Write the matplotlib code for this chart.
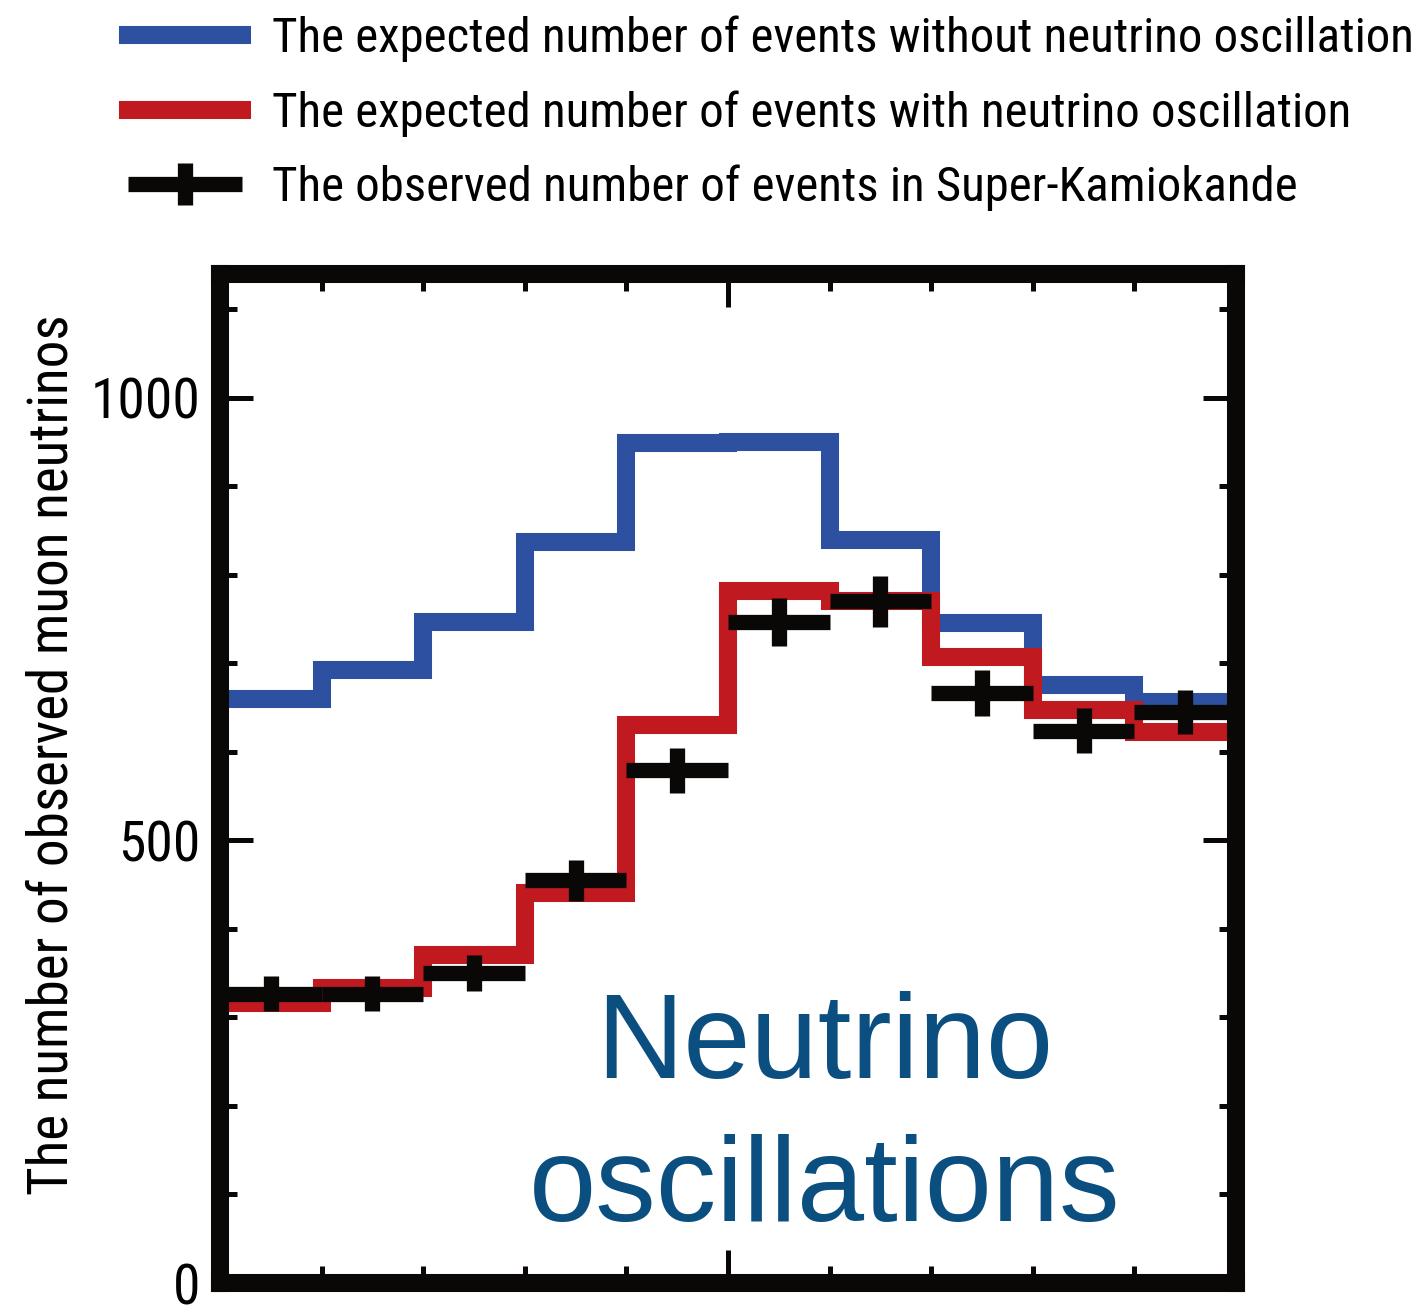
import numpy as np
import matplotlib.pyplot as plt
from matplotlib.ticker import MultipleLocator
from matplotlib.container import ErrorbarContainer
from matplotlib.legend_handler import HandlerErrorbar

# zenith angle bins (cos theta)
bin_edges = [-1.0, -0.8, -0.6, -0.4, -0.2, 0.0, 0.2, 0.4, 0.6, 0.8, 1.0]

# expected events without oscillation
no_osc = [660, 693, 747, 837, 949, 950, 839, 745, 675, 656]
# expected events with oscillation
with_osc = [316, 333, 370, 440, 630, 782, 770, 707, 647, 622]
# observed in Super-Kamiokande
observed = [327, 327, 350, 455, 579, 747, 770, 667, 624, 645]
observed_err = [20, 20, 20, 23, 25, 27, 29, 26, 25, 25]

labels = ["The expected number of events without neutrino oscillation",
          "The expected number of events with neutrino oscillation",
          "The observed number of events in Super-Kamiokande"]
ylabel = "The number of observed muon neutrinos"

narrow = ['Liberation Sans Narrow', 'Roboto Condensed', 'Lato', 'DejaVu Sans']

edges = np.array(bin_edges)
centers = (edges[:-1] + edges[1:]) / 2
half_w = np.diff(edges) / 2

fig = plt.figure(figsize=(14.24, 13.10), dpi=100)
ax = fig.add_axes([0.1545, 0.0206, 0.7135, 0.7704])
renderer = fig.canvas.get_renderer()


def fit_size(text, width_px, guess=30):
    # font size that makes the text about width_px wide
    t = fig.text(0, 0, text, fontsize=guess, family=narrow)
    w = t.get_window_extent(renderer=renderer).width
    t.remove()
    return guess * width_px / w


s1 = ax.stairs(no_osc, edges, baseline=None, color='#2E50A0', linewidth=13)
s2 = ax.stairs(with_osc, edges, baseline=None, color='#C0191F', linewidth=13)
eb = ax.errorbar(centers, observed, xerr=half_w, yerr=observed_err, fmt='none',
                 ecolor='#0A0707', elinewidth=11)

ax.set_xlim(-1, 1)
ax.set_ylim(0, 1140)
ax.xaxis.set_major_locator(MultipleLocator(1.0))
ax.xaxis.set_minor_locator(MultipleLocator(0.2))
ax.yaxis.set_major_locator(MultipleLocator(500))
ax.yaxis.set_minor_locator(MultipleLocator(100))
ax.tick_params(which='both', direction='in', top=True, right=True,
               labelbottom=False, width=3.6, color='#0A0707')
ax.tick_params(which='major', length=24, pad=14, labelsize=40)
ax.tick_params(which='minor', length=12)
for lbl in ax.get_yticklabels():
    lbl.set_family(narrow)
for sp in ax.spines.values():
    sp.set_linewidth(13)
    sp.set_color('#0A0707')

ax.set_ylabel(ylabel, fontsize=fit_size(ylabel, 880), family=narrow)
ax.yaxis.set_label_coords(-0.139, 0.523)

ax.text(0.19, 232, "Neutrino", fontsize=87, color='#0B4F80',
        family='Liberation Sans', ha='center', va='baseline')
ax.text(0.19, 70, "oscillations", fontsize=87, color='#0B4F80',
        family='Liberation Sans', ha='center', va='baseline')

leg_fs = fit_size(labels[0], 1143)
fs_px = leg_fs * 100 / 72
fig.legend([s1, s2, eb], labels, loc='upper left',
           bbox_to_anchor=(0.0899, 0.988), frameon=False,
           prop={'family': narrow, 'size': leg_fs},
           handlelength=114 / fs_px, handletextpad=30 / fs_px,
           labelspacing=28 / fs_px,
           borderpad=0, borderaxespad=0,
           handler_map={ErrorbarContainer: HandlerErrorbar(xerr_size=57 / fs_px,
                                                           yerr_size=21 / fs_px)})

fig.savefig('out.png', dpi=100)
